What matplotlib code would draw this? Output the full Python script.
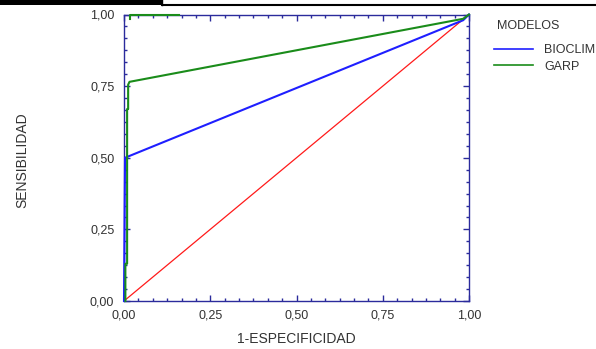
import numpy as np
import matplotlib.pyplot as plt
from matplotlib.ticker import FixedLocator, FuncFormatter
from matplotlib.lines import Line2D
from matplotlib.patches import Rectangle

plt.rcParams['font.family'] = ['Liberation Sans', 'DejaVu Sans']

# curve data
ref_x = [0.0, 1.0]
ref_y = [0.0, 1.0]

bioclim_x = [0.0, 0.0, 0.003, 0.983, 1.0]
bioclim_y = [0.0, 0.0, 0.50, 0.980, 1.0]

garp_x = [0.004, 0.004, 0.009, 0.009, 0.012, 0.012, 0.016, 0.983, 1.0]
garp_y = [0.0, 0.13, 0.13, 0.67, 0.67, 0.755, 0.765, 0.985, 1.0]

# stray green piece at the top edge
garp_top_x = [0.016, 0.016, 0.16]
garp_top_y = [0.985, 1.0, 1.0]

ticks_major = [0.0, 0.25, 0.5, 0.75, 1.0]
models = ['BIOCLIM', 'GARP']
colors = ['#1f1fff', '#1a8c1a']

W, H = 596, 349
fig = plt.figure(figsize=(W / 100, H / 100), dpi=100)
ax = fig.add_axes([124 / W, (H - 301) / H, (469 - 124) / W, (301 - 14.5) / H])

ax.plot(ref_x, ref_y, color='#ff1a1a', lw=0.9, zorder=2)
ax.plot(bioclim_x, bioclim_y, color=colors[0], lw=1.5, zorder=3, clip_on=False)
ax.plot(garp_x, garp_y, color=colors[1], lw=1.5, zorder=4, clip_on=False)
ax.plot(garp_top_x, garp_top_y, color=colors[1], lw=1.5, zorder=4, clip_on=False)

ax.set_xlim(0, 1)
ax.set_ylim(0, 1)

axis_col = '#2b2b9c'
for sp in ax.spines.values():
    sp.set_color(axis_col)
    sp.set_linewidth(1.0)

fmt = FuncFormatter(lambda v, p: f'{v:.2f}'.replace('.', ','))
minor = [i / 24 for i in range(25)]
for a in (ax.xaxis, ax.yaxis):
    a.set_major_locator(FixedLocator(ticks_major))
    a.set_minor_locator(FixedLocator(minor))
    a.set_major_formatter(fmt)
ax.tick_params(which='both', direction='in', top=True, right=True,
               color=axis_col, width=1.0, labelsize=9, labelcolor='#333333')
ax.tick_params(which='major', length=4.5)
ax.tick_params(which='minor', length=2.5)
ax.tick_params(axis='y', pad=7)
ax.tick_params(axis='x', pad=6)

fig.text(296 / W, 1 - 339 / H, '1-ESPECIFICIDAD', ha='center', va='center',
         fontsize=10, color='#333333')
fig.text(22 / W, 1 - 160 / H, 'SENSIBILIDAD', ha='center', va='center',
         rotation=90, fontsize=10, color='#333333')

# legend
fig.text(497 / W, 1 - 26 / H, 'MODELOS', ha='left', va='center',
         fontsize=9, color='#333333')
handles = [Line2D([], [], color=c, lw=1.2) for c in colors]
fig.legend(handles, models, loc='upper left', bbox_to_anchor=(488 / W, 1 - 38 / H),
           frameon=False, fontsize=9, handlelength=3.1, handletextpad=0.9,
           labelspacing=0.35, borderpad=0, labelcolor='#333333')

# black border bits at the top
fig.patches.append(Rectangle((0, 1 - 5 / H), 162 / W, 5 / H, transform=fig.transFigure,
                             facecolor='black', edgecolor='none'))
fig.lines.append(Line2D([162 / W, 1], [1 - 4.5 / H, 1 - 4.5 / H], transform=fig.transFigure,
                        color='black', lw=1.5))
fig.lines.append(Line2D([162 / W, 162 / W], [1, 1 - 5 / H], transform=fig.transFigure,
                        color='black', lw=1.0))

fig.savefig('out.png', dpi=100)
